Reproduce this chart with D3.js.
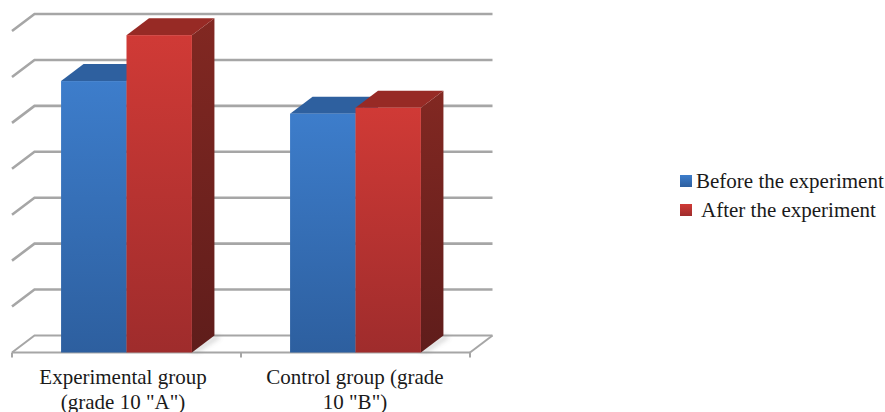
<!DOCTYPE html>
<html>
<head>
<meta charset="utf-8">
<script src="https://cdn.jsdelivr.net/npm/d3@7"></script>
<style>
html,body{margin:0;padding:0;background:#fff;}
svg{display:block;}
text{font-family:"Liberation Serif","Times New Roman",serif;fill:#1a1a1a;}
</style>
</head>
<body>
<svg id="chart" width="885" height="412"></svg>
<script>
const categories = ['Experimental group (grade 10 "A")', 'Control group (grade 10 "B")'];
const categoryLines = [['Experimental group', '(grade 10 "A")'], ['Control group (grade', '10 "B")']];
const seriesNames = ['Before the experiment', 'After the experiment'];
const beforeValues = [59.1, 52.0];
const afterValues = [69.1, 53.3];
const gridTicks = [0, 10, 20, 30, 40, 50, 60, 70];

const palette = {
  blue: {front: ['#3d7dcb', '#2d5f9f'], top: '#2e609f', side: ['#28558f', '#1f4574']},
  red: {front: ['#d03a36', '#9f2c2c'], top: '#972a25', side: ['#822822', '#5f1d1b']}
};
const seriesColors = [palette.blue, palette.red];
const seriesValues = [beforeValues, afterValues];

const svg = d3.select('#chart');
const depth = {x: 22.5, y: 17};
const plot = {left: 12, right: 470, base: 352.5, top: 31};

const x0 = d3.scaleBand().domain(categories).range([plot.left, plot.right]);
const x1 = d3.scaleBand().domain(seriesNames).range([0, x0.bandwidth()])
  .paddingInner(0).paddingOuter(0.75);
const y = d3.scaleLinear().domain([0, 70]).range([plot.base, plot.top]);

// Vertical gradients for the front and side faces, plus the floor shadow blur.
const defs = svg.append('defs');
function gradient(id, stops) {
  const g = defs.append('linearGradient').attr('id', id)
    .attr('x1', 0).attr('y1', 0).attr('x2', 0).attr('y2', 1);
  g.append('stop').attr('offset', 0).attr('stop-color', stops[0]);
  g.append('stop').attr('offset', 1).attr('stop-color', stops[1]);
}
seriesColors.forEach((c, i) => {
  gradient('front' + i, c.front);
  gradient('side' + i, c.side);
});
defs.append('filter').attr('id', 'soft').attr('x', '-30%').attr('y', '-30%')
  .attr('width', '160%').attr('height', '160%')
  .append('feGaussianBlur').attr('stdDeviation', 2.5);

// Walls: a diagonal from the front edge back, then the horizontal rule.
const gridColor = '#a6a6a6';
const gridPath = d => {
  const p = d3.path();
  p.moveTo(plot.left, y(d));
  p.lineTo(plot.left + depth.x, y(d) - depth.y);
  p.lineTo(plot.right + depth.x, y(d) - depth.y);
  return p.toString();
};
svg.append('g').selectAll('path').data(gridTicks).join('path')
  .attr('d', gridPath)
  .attr('fill', 'none')
  .attr('stroke', gridColor)
  .attr('stroke-width', d => d === 0 ? 2 : 2.6);

// Floor edges and the category ticks under it.
const floor = svg.append('g').attr('stroke', gridColor).attr('fill', 'none').attr('stroke-width', 2);
floor.append('line')
  .attr('x1', plot.left).attr('x2', plot.right)
  .attr('y1', plot.base).attr('y2', plot.base);
floor.append('line')
  .attr('x1', plot.right).attr('y1', plot.base)
  .attr('x2', plot.right + depth.x).attr('y2', plot.base - depth.y);
const tickXs = x0.domain().map(c => x0(c)).concat(plot.right);
floor.selectAll('.tick').data(tickXs).join('line')
  .attr('class', 'tick')
  .attr('x1', d => d).attr('x2', d => d)
  .attr('y1', plot.base).attr('y2', plot.base + 5);

// Bars: shadow on the floor, then side, top and front faces.
const poly = pts => pts.map(p => p.join(',')).join(' ');
categories.forEach((cat, ci) => {
  const g = svg.append('g');
  const outerRight = x0(cat) + x1(seriesNames[1]) + x1.bandwidth();
  g.append('polygon')
    .attr('points', poly([
      [outerRight - 2, plot.base - 1],
      [outerRight + depth.x + 2, plot.base - depth.y - 1],
      [outerRight + depth.x + 6, plot.base - depth.y + 2],
      [outerRight + 5, plot.base]
    ]))
    .attr('fill', '#777').attr('opacity', 0.3).attr('filter', 'url(#soft)');

  seriesNames.forEach((name, si) => {
    const v = seriesValues[si][ci];
    const l = x0(cat) + x1(name);
    const r = l + x1.bandwidth();
    const t = y(v);
    const b = y(0);
    const dx = depth.x, dy = depth.y;
    g.append('polygon')
      .attr('points', poly([[r, t], [r + dx, t - dy], [r + dx, b - dy], [r, b]]))
      .attr('fill', `url(#side${si})`);
    g.append('polygon')
      .attr('points', poly([[l, t], [l + dx, t - dy], [r + dx, t - dy], [r, t]]))
      .attr('fill', seriesColors[si].top);
    g.append('rect')
      .attr('x', l).attr('y', t)
      .attr('width', x1.bandwidth()).attr('height', b - t)
      .attr('fill', `url(#front${si})`);
  });
});

// Category labels, two lines each.
const labelX = [123, 355];
const labels = svg.append('g').attr('text-anchor', 'middle').attr('font-size', 21);
categoryLines.forEach((lines, ci) => {
  lines.forEach((line, li) => {
    labels.append('text')
      .attr('x', labelX[ci]).attr('y', 384 + li * 24.5)
      .text(line);
  });
});

// Legend.
const legendRows = [{sq: 175, text: 188, textX: 696}, {sq: 204, text: 216.5, textX: 701}];
const legend = svg.append('g');
seriesNames.forEach((name, i) => {
  const row = legendRows[i];
  legend.append('rect')
    .attr('x', 680).attr('y', row.sq)
    .attr('width', 12).attr('height', 12)
    .attr('fill', `url(#front${i})`);
  legend.append('text')
    .attr('x', row.textX).attr('y', row.text)
    .attr('font-size', 21)
    .text(name);
});
</script>
</body>
</html>
